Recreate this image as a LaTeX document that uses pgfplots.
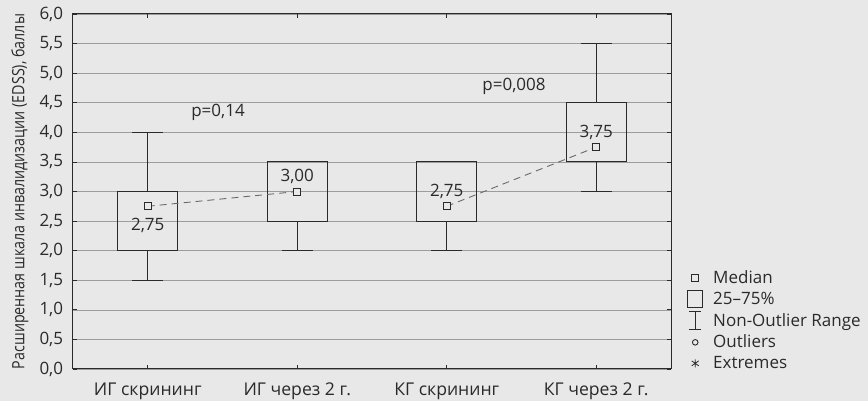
\documentclass[border=0pt]{standalone}
\usepackage{fontspec}
\setmainfont{Open Sans}
\newfontfamily\condfont[FakeStretch=0.84]{Open Sans}
\usepackage{pgfplots}
\pgfplotsset{compat=1.18}
\usepgfplotslibrary{statistics}
\definecolor{bg}{HTML}{E8E8E8}
\definecolor{ink}{HTML}{2A2A2A}
\definecolor{gridc}{HTML}{9C9C9C}
\definecolor{dashc}{HTML}{6A6A6A}
\newcommand{\fs}{\fontsize{17}{20}\selectfont}
\begin{document}
\fs
\begin{tikzpicture}
\fill[bg] (0,0) rectangle (868pt,401pt);
\path[use as bounding box] (0,0) rectangle (868pt,401pt);
\begin{axis}[
  at={(73pt,32pt)}, anchor=south west,
  scale only axis, width=598pt, height=355pt,
  xmin=-0.5, xmax=3.5, ymin=0, ymax=6,
  xtick={0,1,2,3},
  xticklabels={ИГ скрининг, ИГ через 2 г., КГ скрининг, КГ через 2 г.},
  ytick={0,0.5,1,1.5,2,2.5,3,3.5,4,4.5,5,5.5,6},
  /pgf/number format/.cd, use comma, fixed, fixed zerofill, precision=1, assume math mode=true,
  /pgfplots/.cd,
  tick align=inside, major tick length=4pt,
  tick style={ink, line width=0.8pt},
  axis line style={ink, line width=1pt},
  ymajorgrids, grid style={gridc, line width=0.6pt},
  tick label style={font=\fs, text=ink},
  xticklabel style={font=\fontsize{17.6}{20}\selectfont, anchor=base, yshift=-26.3pt},
  yticklabel style={anchor=east, xshift=-4pt},
  ylabel={Расширенная шкала инвалидизации (EDSS), баллы},
  ylabel style={font=\condfont\fontsize{17}{20}\selectfont, text=ink, at={(axis description cs:-0.0886,0.5)}, anchor=center},
  boxplot/draw direction=y,
  boxplot/draw/median/.code={},
  legend style={at={(axis description cs:1.0268,0.281)}, anchor=north west,
    draw=none, fill=none, font=\fs, text=ink, inner sep=0pt, row sep=3pt, column sep=10pt,
    nodes={inner sep=0pt}},
  legend cell align=left,
  clip=false,
]
\addplot[forget plot, draw=ink, line width=1pt, solid, boxplot prepared={draw position=0, median=2.75, lower quartile=2, upper quartile=3, lower whisker=1.5, upper whisker=4, box extend=0.4, whisker extend=0.21}] coordinates {};
\addplot[forget plot, draw=ink, line width=1pt, solid, boxplot prepared={draw position=1, median=3, lower quartile=2.5, upper quartile=3.5, lower whisker=2, upper whisker=3.5, box extend=0.4, whisker extend=0.21}] coordinates {};
\addplot[forget plot, draw=ink, line width=1pt, solid, boxplot prepared={draw position=2, median=2.75, lower quartile=2.5, upper quartile=3.5, lower whisker=2, upper whisker=3.5, box extend=0.4, whisker extend=0.21}] coordinates {};
\addplot[forget plot, draw=ink, line width=1pt, solid, boxplot prepared={draw position=3, median=3.75, lower quartile=3.5, upper quartile=4.5, lower whisker=3, upper whisker=5.5, box extend=0.4, whisker extend=0.21}] coordinates {};
\addplot[forget plot, dashc, line width=0.9pt, dash pattern=on 7pt off 5pt] coordinates {(0,2.75) (1,3)};
\addplot[forget plot, dashc, line width=0.9pt, dash pattern=on 7pt off 5pt] coordinates {(2,2.75) (3,3.75)};
\addplot[forget plot, only marks, mark=square*, mark size=3.5pt, mark options={draw=ink, fill=bg, line width=0.9pt, solid}] coordinates {(0,2.75) (1,3) (2,2.75) (3,3.75)};
\node[font=\fs, text=ink] at (axis cs:0,2.42) {2,75};
\node[font=\fs, text=ink] at (axis cs:1,3.25) {3,00};
\node[font=\fs, text=ink] at (axis cs:2,3.0) {2,75};
\node[font=\fs, text=ink] at (axis cs:3,4.0) {3,75};
\node[font=\fs, text=ink] at (axis cs:0.47,4.33) {p=0,14};
\node[font=\fs, text=ink] at (axis cs:2.45,4.77) {p=0,008};
\addlegendimage{legend image code/.code={\path[draw=none,fill=none] (0pt,-9pt) rectangle (16pt,9pt); \draw[ink, line width=0.9pt, solid] (4.5pt,-3.5pt) rectangle (11.5pt,3.5pt);}}
\addlegendentry{Median}
\addlegendimage{legend image code/.code={\path[draw=none,fill=none] (0pt,-9pt) rectangle (16pt,9pt); \draw[ink, line width=0.9pt, solid] (0.5pt,-8.5pt) rectangle (15.5pt,8.5pt);}}
\addlegendentry{25--75\%}
\addlegendimage{legend image code/.code={\path[draw=none,fill=none] (0pt,-9pt) rectangle (16pt,9pt); \draw[ink, line width=0.9pt, solid] (8pt,-9pt) -- (8pt,9pt) (2pt,9pt) -- (14pt,9pt) (2pt,-9pt) -- (14pt,-9pt);}}
\addlegendentry{Non-Outlier Range}
\addlegendimage{legend image code/.code={\path[draw=none,fill=none] (0pt,-9pt) rectangle (16pt,9pt); \draw[ink, line width=0.9pt, solid] (8pt,0pt) circle (2.8pt);}}
\addlegendentry{Outliers}
\addlegendimage{legend image code/.code={\path[draw=none,fill=none] (0pt,-9pt) rectangle (16pt,9pt); \draw[ink, line width=0.8pt, solid] (8pt,-4pt) -- (8pt,4pt) (4.5pt,-2.5pt) -- (11.5pt,2.5pt) (4.5pt,2.5pt) -- (11.5pt,-2.5pt);}}
\addlegendentry{Extremes}
\end{axis}
\end{tikzpicture}
\end{document}
